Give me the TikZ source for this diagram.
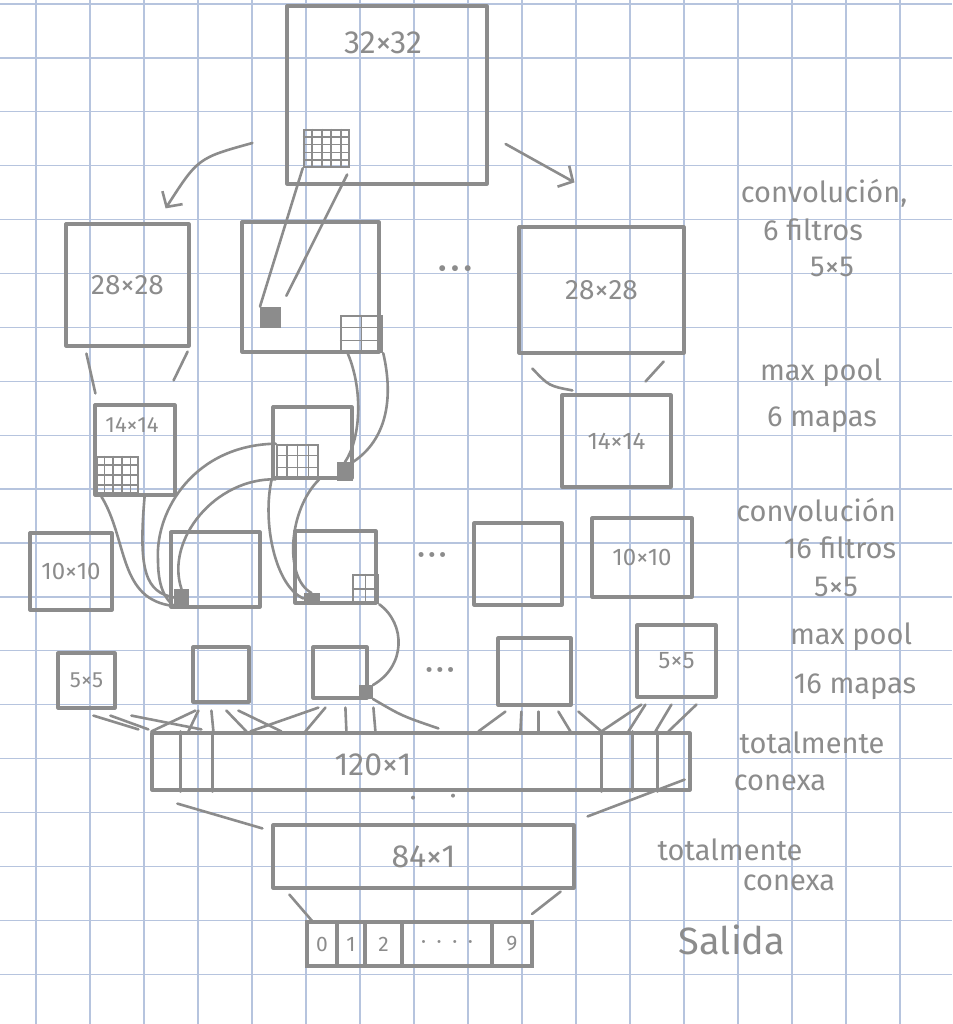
\documentclass[tikz,border=0pt]{standalone}
\usepackage{fontspec}
\setmainfont{Fira Sans}
\usetikzlibrary{arrows.meta,positioning,calc}
\definecolor{ink}{RGB}{140,140,140}
\definecolor{paperline}{RGB}{182,196,222}
\newcommand{\fsz}[1]{\fontsize{#1}{#1}\selectfont}
% grid of cells inside a patch node: name, columns, rows
\newcommand{\cellgrid}[3]{%
  \pgfmathtruncatemacro{\ncols}{#2-1}%
  \pgfmathtruncatemacro{\nrows}{#3-1}%
  \foreach \i in {1,...,\ncols}
    \draw[gridln] ($(#1.north west)!\i/#2!(#1.north east)$) -- ($(#1.south west)!\i/#2!(#1.south east)$);%
  \foreach \j in {1,...,\nrows}
    \draw[gridln] ($(#1.north west)!\j/#3!(#1.south west)$) -- ($(#1.north east)!\j/#3!(#1.south east)$);%
}
\tikzset{
  paper/.style={draw=paperline, line width=1.3pt},
  map/.style={draw=ink, line width=3.2pt, rectangle, inner sep=0pt, text=ink, line join=round},
  patch/.style={draw=ink, line width=2.6pt, rectangle, inner sep=0pt},
  gridln/.style={draw=ink, line width=1.8pt},
  blob/.style={draw=ink, fill=ink, line width=2pt, rectangle, inner sep=0pt},
  link/.style={draw=ink, line width=2.6pt, line cap=round},
  fwd/.style={link, -{Straight Barb[length=11pt,width=24pt]}},
  lbl/.style={text=ink, inner sep=0pt},
  side/.style={lbl, font=\fsz{29}},
  outcell/.style={draw=ink, line width=3.2pt, rectangle, inner sep=0pt, outer sep=0pt,
    text=ink, minimum height=44pt, font=\fsz{21}},
}
\begin{document}
\begin{tikzpicture}[x=1pt, y=-1pt]
  \fill[white] (0,0) rectangle (952,1024);
  \useasboundingbox (0,0) rectangle (952,1024);
  % squared paper
  \foreach \k in {0,...,16} \draw[paper] ({36+54*\k},0) -- ({36+54*\k},1024);
  \foreach \k in {0,...,18} \draw[paper] (0,{4+53.9*\k}) -- (952,{4+53.9*\k});

  % input image
  \node[map, minimum width=200pt, minimum height=178pt] (in) at (387,95) {};
  \node[lbl, font=\fsz{32}] (tin) at (383,43) {32×32};
  \node[patch, minimum width=45pt, minimum height=37pt] (k1) at (326.5,148.5) {};
  \cellgrid{k1}{5}{5}

  % first convolution
  \node[map, minimum width=123pt, minimum height=122pt, font=\fsz{28}] (c1a) at (127.5,285) {28×28};
  \node[map, minimum width=137pt, minimum height=130pt] (c1b) at (310.5,287) {};
  \node[lbl, font=\fsz{26}] (d1) at (455,272) {•\,•\,•};
  \node[map, minimum width=165pt, minimum height=126pt, font=\fsz{28}] (c1c) at (601.5,290) {28×28};
  \node[blob, minimum size=19pt] (s1) at (270.5,317) {};
  \node[patch, minimum width=41pt, minimum height=36pt] (g1) at (361.5,334) {};
  \cellgrid{g1}{2}{3}
  \draw[fwd] ([shift={(-33,48)}]in.west) .. controls (198,158) .. ([shift={(-25,-14)}]c1a.north east);
  \draw[fwd] ([shift={(17,49)}]in.east) -- ([shift={(-27,-43)}]c1c.north);
  \draw[link] (k1.south west) -- (s1.north west);
  \draw[link, shorten <=7pt, shorten >=12pt] (k1.south east) -- (s1.north east);

  % first max pool
  \node[map, minimum width=80pt, minimum height=90pt] (p1a) at (135,450) {};
  \node[lbl, font=\fsz{22}] (tp1a) at (132,425) {14×14};
  \node[patch, minimum width=41pt, minimum height=36pt] (g2) at (117.5,475) {};
  \cellgrid{g2}{5}{4}
  \node[map, minimum width=79pt, minimum height=71pt] (p1b) at (312.5,442.5) {};
  \node[patch, minimum width=41pt, minimum height=33pt] (g3) at (297.5,461.5) {};
  \cellgrid{g3}{4}{3}
  \node[blob, minimum width=14pt, minimum height=17pt] (s2) at (345,471.5) {};
  \node[map, minimum width=109pt, minimum height=92pt, font=\fsz{24}] (p1c) at (616.5,441) {14×14};
  \draw[link] ([shift={(22,6)}]c1a.south west) -- ([shift={(2,-10)}]p1a.north west);
  \draw[link] ([shift={(-3,4)}]c1a.south east) -- ([shift={(-3,-23)}]p1a.north east);
  \draw[link] ([shift={(15,14)}]c1c.south west) .. controls (549,386) .. ([shift={(12,-3)}]p1c.north west);
  \draw[link] ([shift={(-22,7)}]c1c.south east) -- ([shift={(-27,-12)}]p1c.north east);
  \draw[link] (g1.south east) .. controls (394,400) and (386,440) .. (s2.north east);
  \draw[link] ([xshift=8pt]g1.south west) .. controls (364,392) and (360,440) .. (s2.north);

  % second convolution
  \node[map, minimum width=82pt, minimum height=77pt, font=\fsz{24}] (c2a) at (71,571.5) {10×10};
  \node[map, minimum width=89pt, minimum height=75pt] (c2b) at (215.5,569.5) {};
  \node[blob, minimum width=13pt, minimum height=15pt] (s3) at (181.5,597.5) {};
  \node[map, minimum width=81pt, minimum height=72pt] (c2c) at (335.5,567) {};
  \node[blob, minimum width=14pt, minimum height=9pt] (s4) at (311.5,598.5) {};
  \node[patch, minimum width=25pt, minimum height=28pt] (g4) at (365.5,589) {};
  \cellgrid{g4}{2}{2}
  \node[lbl, font=\fsz{22}] (d2) at (432,558) {•\,•\,•};
  \node[map, minimum width=88pt, minimum height=82pt] (c2d) at (518,564) {};
  \node[map, minimum width=100pt, minimum height=79pt, font=\fsz{24}] (c2e) at (642,557.5) {10×10};
  \draw[link] ([xshift=8pt]p1a.south west) .. controls (128,540) and (118,600) .. (s3.south west);
  \draw[link] ([xshift=-32pt]p1a.south east) .. controls (138,572) and (146,592) .. (s3.west);
  \draw[link] (g3.north west) .. controls (195,445) and (155,510) .. (158,560)
    .. controls (158,585) and (164,598) .. (s3.south west);
  \draw[link] (g3.south west) .. controls (215,478) and (165,540) .. (s3.north);
  \draw[link] ([xshift=-4pt]g3.south west) .. controls (262,522) and (275,586) .. (s4.west);
  \draw[link] (g3.south east) .. controls (288,510) and (284,578) .. (s4.north);

  % second max pool
  \node[map, minimum width=57pt, minimum height=55pt, font=\fsz{22}] (p2a) at (86.5,680.5) {5×5};
  \node[map, minimum width=56pt, minimum height=55pt] (p2b) at (221,674.5) {};
  \node[map, minimum width=54pt, minimum height=51pt] (p2c) at (340,672.5) {};
  \node[blob, minimum size=12pt] (b1) at (366,692) {};
  \node[lbl, font=\fsz{22}] (d3) at (440,672) {•\,•\,•};
  \node[map, minimum width=73pt, minimum height=67pt] (p2d) at (534.5,671.5) {};
  \node[map, minimum width=79pt, minimum height=72pt, font=\fsz{24}] (p2e) at (676.5,661) {5×5};
  \draw[link] (g4.south east) .. controls (406,624) and (406,666) .. (b1.north east);

  % fully connected 120
  \node[map, minimum width=538pt, minimum height=57pt] (fc) at (421,761.5) {};
  \node[lbl, font=\fsz{32}] (tfc) at (373,765) {120×1};
  \foreach \dx in {30,62}
    \draw[link] ([xshift=\dx pt]fc.north west) -- ([xshift=\dx pt]fc.south west);
  \foreach \dx in {-90,-59,-34}
    \draw[link] ([xshift=\dx pt]fc.north east) -- ([xshift=\dx pt]fc.south east);
  \fill[ink] ([shift={(-8,6)}]fc.south) circle (2);
  \fill[ink] ([shift={(32,4)}]fc.south) circle (2);
  \foreach \a/\b in {37/-12, 54/-2, 75/51}
    \draw[link] ([shift={(\a,6)}]p2a.south west) -- ([shift={(\b,-2)}]fc.north west);
  \foreach \a/\b in {4/1, 7/38, 20/63, 35/96, 47/131}
    \draw[link] ([shift={(\a,7)}]p2b.south west) -- ([shift={(\b,0)}]fc.north west);
  \foreach \a/\b in {7/100, 14/155, 34/196, 62/225}
    \draw[link] ([shift={(\a,8)}]p2c.south west) -- ([shift={(\b,0)}]fc.north west);
  \draw[link] (b1.south east) .. controls (402,716) .. ([shift={(288,-3)}]fc.north west);
  \foreach \a/\b in {9/328, 25/370, 42/388, 62/420, 82/451}
    \draw[link] ([shift={(\a,5)}]p2d.south west) -- ([shift={(\b,0)}]fc.north west);
  \foreach \a/\b in {6/451, 10/478, 36/505, 61/518}
    \draw[link] ([shift={(\a,6)}]p2e.south west) -- ([shift={(\b,0)}]fc.north west);

  % fully connected 84
  \node[map, minimum width=301pt, minimum height=63pt, font=\fsz{32}] (fc2) at (423.5,856.5) {84×1};
  \draw[link] ([shift={(27,12)}]fc.south west) -- ([shift={(-9,5)}]fc2.north west);
  \draw[link] ([shift={(-7,-12)}]fc.south east) -- ([shift={(12,-7)}]fc2.north east);

  % output
  \node[outcell, minimum width=30pt] (o0) at (322,944) {0};
  \node[outcell, minimum width=28pt, right=0pt of o0] (o1) {1};
  \node[outcell, minimum width=37pt, right=0pt of o1] (o2) {2};
  \node[outcell, minimum width=90pt, right=0pt of o2] (od) {·\enspace·\enspace·\enspace·};
  \node[outcell, minimum width=40pt, right=0pt of od] (o9) {9};
  \draw[link] ([shift={(18,5)}]fc2.south west) -- ([shift={(6,0)}]o0.north west);
  \draw[link] ([shift={(-15,2)}]fc2.south east) -- ([shift={(0,-8)}]o9.north east);

  % layer notes
  \node[side] (n1a) at (824,193) {convolución,};
  \node[side] (n1b) at (813,230) {6 filtros};
  \node[side] (n1c) at (832,267) {5×5};
  \node[side] (n2a) at (821,373) {max pool};
  \node[side] (n2b) at (822,420) {6 mapas};
  \node[side] (n3a) at (816,510) {convolución};
  \node[side] (n3b) at (840,548) {16 filtros};
  \node[side] (n3c) at (836,587) {5×5};
  \node[side] (n4a) at (851,637) {max pool};
  \node[side] (n4b) at (855,687) {16 mapas};
  \node[side] (n5a) at (812,743) {totalmente};
  \node[side] (n5b) at (780,783) {conexa};
  \node[side] (n6a) at (730,850) {totalmente};
  \node[side] (n6b) at (789,883) {conexa};
  \node[side, font=\fsz{38}] (n7) at (732,940) {Salida};
\end{tikzpicture}
\end{document}
